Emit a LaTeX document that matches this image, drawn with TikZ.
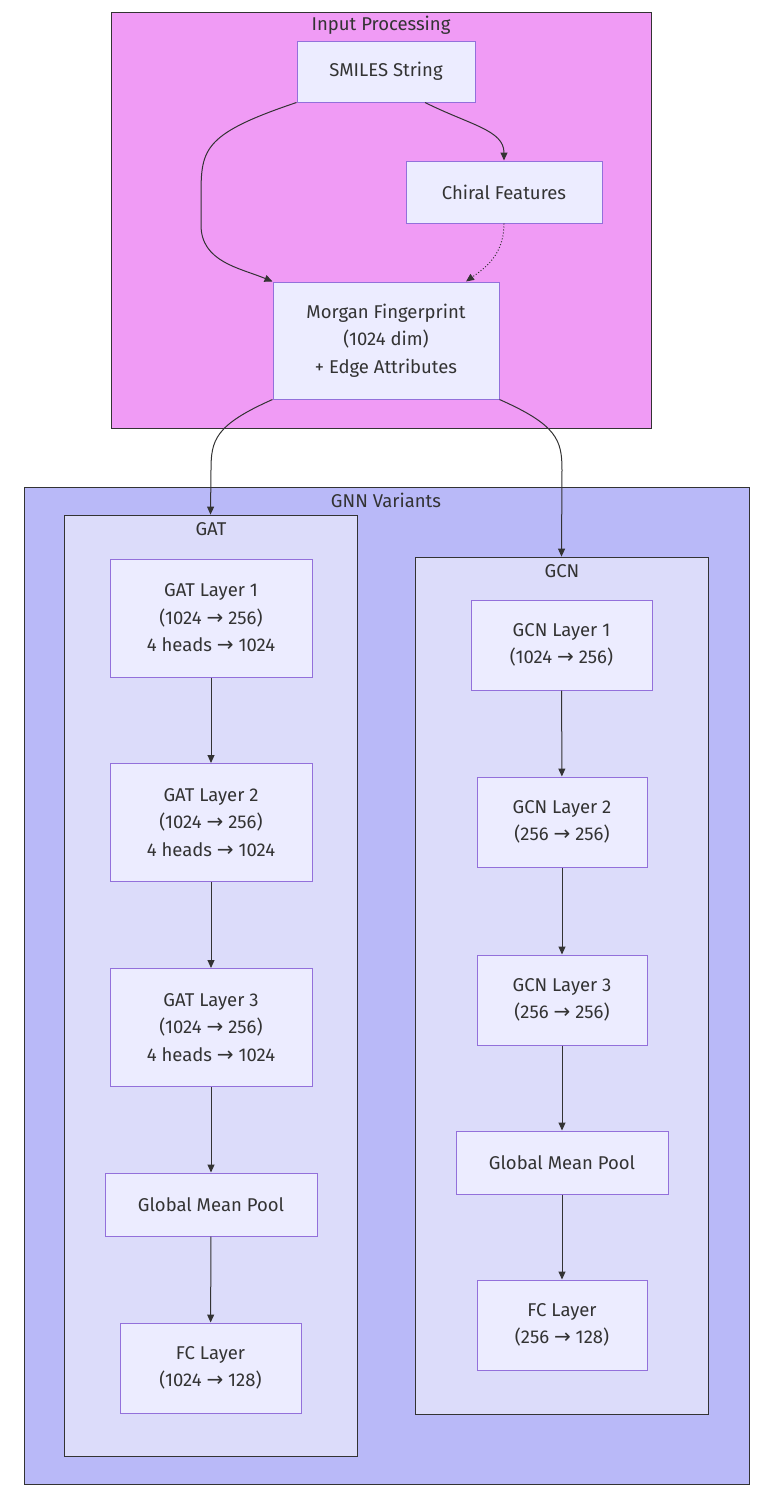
\documentclass[tikz,border=0pt]{standalone}
\usepackage{fontspec}
\setmainfont{Fira Sans}
\newfontfamily\dejavu{DejaVu Sans}
\usetikzlibrary{arrows.meta}
\newcommand{\ar}{{\dejavu\fontsize{20}{20}\selectfont →}}
\definecolor{nodefill}{HTML}{ECECFF}
\definecolor{nodeline}{HTML}{9370DB}
\definecolor{inputfill}{HTML}{F09BF5}
\definecolor{gnnfill}{HTML}{B9B9F8}
\definecolor{subfill}{HTML}{DCDCFA}
\definecolor{edgecol}{HTML}{333333}
\definecolor{txt}{HTML}{333333}
\tikzset{
  box/.style={draw=nodeline, fill=nodefill, line width=1pt, align=center, inner sep=0pt,
    font=\fontsize{18.5}{27.5}\selectfont, text=txt},
  cluster/.style={draw=edgecol, line width=0.8pt, inner sep=0pt},
  ctitle/.style={font=\fontsize{18.5}{20}\selectfont, text=txt, inner sep=0pt},
  edge/.style={draw=edgecol, line width=1pt, -{Triangle[length=8pt,width=7pt]}},
}
\begin{document}
\begin{tikzpicture}[x=1pt,y=-1pt]
\useasboundingbox (0,0) rectangle (770,1500);
% clusters
\node[cluster, fill=inputfill, minimum width=540, minimum height=416] (inp) at (381,220) {};
\node[ctitle] (inpt) at (381,25) {Input Processing};
\node[cluster, fill=gnnfill, minimum width=725, minimum height=997] (gnn) at (386.5,985.5) {};
\node[ctitle] (gnnt) at (386,500) {GNN Variants};
\node[cluster, fill=subfill, minimum width=293, minimum height=941] (gat) at (210.5,985.5) {};
\node[ctitle] (gatt) at (211,529) {GAT};
\node[cluster, fill=subfill, minimum width=293, minimum height=857] (gcn) at (561.5,985.5) {};
\node[ctitle] (gcnt) at (562,571) {GCN};
% input nodes
\node[box, minimum width=178, minimum height=61] (smi) at (386,71.5) {SMILES String};
\node[box, minimum width=196, minimum height=62] (chi) at (504,192) {Chiral Features};
\node[box, minimum width=226, minimum height=117] (mor) at (386,340.5) {Morgan Fingerprint\\(1024 dim)\\+ Edge Attributes};
% GAT nodes
\node[box, minimum width=202, minimum height=118] (ga1) at (211,618) {GAT Layer 1\\(1024 \ar{} 256)\\4 heads \ar{} 1024};
\node[box, minimum width=202, minimum height=118] (ga2) at (211,822.5) {GAT Layer 2\\(1024 \ar{} 256)\\4 heads \ar{} 1024};
\node[box, minimum width=202, minimum height=118] (ga3) at (211,1027.5) {GAT Layer 3\\(1024 \ar{} 256)\\4 heads \ar{} 1024};
\node[box, minimum width=212, minimum height=63] (gap) at (211,1204.5) {Global Mean Pool};
\node[box, minimum width=181, minimum height=90] (gaf) at (210.5,1368) {FC Layer\\(1024 \ar{} 128)};
% GCN nodes
\node[box, minimum width=181, minimum height=90] (gc1) at (561.5,645) {GCN Layer 1\\(1024 \ar{} 256)};
\node[box, minimum width=170, minimum height=90] (gc2) at (562,822) {GCN Layer 2\\(256 \ar{} 256)};
\node[box, minimum width=170, minimum height=90] (gc3) at (562,1000) {GCN Layer 3\\(256 \ar{} 256)};
\node[box, minimum width=212, minimum height=63] (gcp) at (562,1162.5) {Global Mean Pool};
\node[box, minimum width=170, minimum height=90] (gcf) at (562,1325) {FC Layer\\(256 \ar{} 128)};
% edges
\draw[edge] (smi.south west) .. controls (200,135) and (201,150) .. (201,200)
   -- (201,225) .. controls (201,262) and (240,268) .. (mor.north west);
\draw[edge] ([xshift=39pt]smi.south) .. controls (470,125) and (504,130) .. (chi.north);
\draw[edge, dotted] (chi.south) .. controls (504,255) and (485,268) .. ([xshift=80pt]mor.north);
\draw[edge] (mor.south west) .. controls (215,425) and (211,440) .. (211,470) -- (gat.north);
\draw[edge] (mor.south east) .. controls (557,425) and (562,440) .. (562,470) -- (gcn.north);
\draw[edge] (ga1) -- (ga2);
\draw[edge] (ga2) -- (ga3);
\draw[edge] (ga3) -- (gap);
\draw[edge] (gap) -- (gaf);
\draw[edge] (gc1) -- (gc2);
\draw[edge] (gc2) -- (gc3);
\draw[edge] (gc3) -- (gcp);
\draw[edge] (gcp) -- (gcf);
\end{tikzpicture}
\end{document}
